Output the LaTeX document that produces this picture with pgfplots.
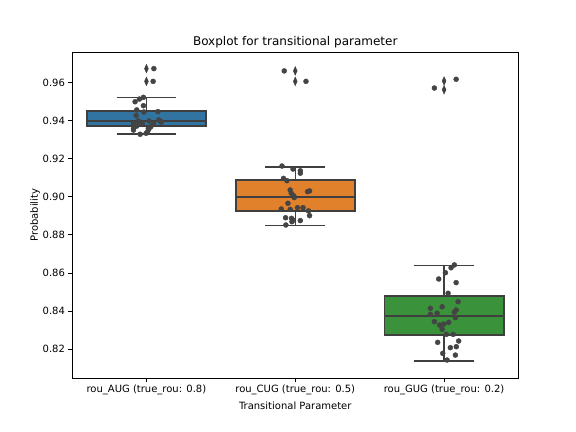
\documentclass[border=0pt]{standalone}
\usepackage{fontspec}
\setmainfont{DejaVu Sans}
\usepackage{pgfplots}
\pgfplotsset{compat=1.18}
\usepgfplotslibrary{statistics}
\definecolor{cA}{HTML}{3274A1}
\definecolor{cB}{HTML}{E1812C}
\definecolor{cC}{HTML}{3A923A}
\definecolor{lg}{HTML}{3F3F3F}
\definecolor{pt}{HTML}{444444}
\begin{document}
\fontsize{10bp}{12bp}\selectfont
\begin{tikzpicture}
\begin{axis}[
  at={(0,0)}, anchor=south west, scale only axis,
  width=446.5bp, height=325.5bp,
  xmin=-0.5, xmax=2.5, ymin=0.80475, ymax=0.97588,
  boxplot/draw direction=y,
  boxplot/every box/.style={/tikz/draw=lg, /tikz/line width=1.8bp},
  boxplot/every median/.style={/tikz/draw=lg, /tikz/line width=1.8bp},
  boxplot/every whisker/.style={/tikz/draw=lg, /tikz/line width=1.5bp},
  xtick={0,1,2},
  xticklabels={rou\_AUG (true\_rou: 0.8), rou\_CUG (true\_rou: 0.5), rou\_GUG (true\_rou: 0.2)},
  ytick={0.82,0.84,0.86,0.88,0.90,0.92,0.94,0.96},
  yticklabel style={/pgf/number format/.cd, fixed, fixed zerofill, precision=2},
  /pgf/number format/assume math mode=true,
  tick align=outside, xtick pos=bottom, ytick pos=left,
  major tick length=3.5bp,
  tick style={black, line width=0.8bp},
  axis line style={line width=0.8bp},
  title={Boxplot for transitional parameter},
  title style={font=\fontsize{12bp}{14bp}\selectfont, yshift=-5bp},
  xlabel={Transitional Parameter}, ylabel={Probability},
  xlabel style={font=\fontsize{10bp}{12bp}\selectfont},
  ylabel style={font=\fontsize{10bp}{12bp}\selectfont, yshift=-4bp},
  ticklabel style={font=\fontsize{10bp}{12bp}\selectfont},
]
% boxes
\addplot[draw=lg, fill=cA, line width=1.5bp, boxplot prepared={
  lower whisker=0.9329, lower quartile=0.9374, median=0.9400,
  upper quartile=0.9451, upper whisker=0.9523,
  draw position=0, box extend=0.8, whisker extend=0.4}] coordinates {};
\addplot[draw=lg, fill=cB, line width=1.5bp, boxplot prepared={
  lower whisker=0.8848, lower quartile=0.8927, median=0.8999,
  upper quartile=0.9090, upper whisker=0.9157,
  draw position=1, box extend=0.8, whisker extend=0.4}] coordinates {};
\addplot[draw=lg, fill=cC, line width=1.5bp, boxplot prepared={
  lower whisker=0.8137, lower quartile=0.8274, median=0.8375,
  upper quartile=0.8480, upper whisker=0.8638,
  draw position=2, box extend=0.8, whisker extend=0.4}] coordinates {};
% outliers (diamonds)
\addplot[only marks, mark=diamond*, mark size=4.3bp, mark options={xscale=0.6, fill=lg, draw=lg}] coordinates {
  (0,0.9674) (0,0.9607) (1,0.9662) (1,0.9607) (2,0.9609) (2,0.9563)};
% strip points
\addplot[only marks, mark=*, mark size=2.5bp, mark options={fill=pt, draw=pt}] coordinates {
  (-0.020,0.9523) (-0.047,0.9514) (-0.076,0.9500) (-0.020,0.9479) (-0.065,0.9457)
  (0.077,0.9448) (-0.017,0.9446) (-0.069,0.9427) (-0.054,0.9399) (-0.087,0.9387)
  (-0.027,0.9387) (0.018,0.9399) (0.047,0.9387) (0.083,0.9404) (0.097,0.9395)
  (-0.087,0.9360) (-0.087,0.9351) (0.013,0.9360) (0.007,0.9342) (-0.042,0.9329)
  (-0.002,0.9334) (0.030,0.9369) (-0.065,0.9372) (0.101,0.9393) (-0.051,0.9393)
  (0.016,0.9355) (0.050,0.9674) (0.045,0.9607)
};
\addplot[only marks, mark=*, mark size=2.5bp, mark options={fill=pt, draw=pt}] coordinates {
  (0.911,0.9162) (0.985,0.9146) (1.034,0.9137) (1.034,0.9124) (0.921,0.9097)
  (0.944,0.9085) (0.966,0.9036) (0.973,0.9019) (0.989,0.9006) (0.993,0.8996)
  (1.083,0.9027) (1.096,0.9031) (0.951,0.8966) (0.906,0.8936) (0.966,0.8934)
  (1.015,0.8943) (1.052,0.8943) (1.089,0.8926) (1.096,0.8901) (0.935,0.8890)
  (0.985,0.8878) (0.978,0.8869) (1.034,0.8875) (0.937,0.8852) (0.975,0.8887)
  (0.926,0.9662) (1.072,0.9607)
};
\addplot[only marks, mark=*, mark size=2.5bp, mark options={fill=pt, draw=pt}] coordinates {
  (2.069,0.8642) (2.047,0.8627) (2.009,0.8601) (1.964,0.8568) (2.081,0.8549)
  (2.027,0.8493) (2.094,0.8449) (1.908,0.8414) (1.987,0.8422) (2.081,0.8405)
  (2.069,0.8393) (1.908,0.8382) (1.953,0.8388) (2.076,0.8365) (1.935,0.8344)
  (2.031,0.8340) (1.970,0.8326) (1.997,0.8331) (1.987,0.8304) (2.015,0.8277)
  (2.061,0.8277) (1.957,0.8235) (2.098,0.8242) (2.082,0.8212) (2.042,0.8207)
  (1.991,0.8177) (2.076,0.8168) (2.020,0.8142) (1.935,0.9572) (2.081,0.9618)
};
\end{axis}
\pgfresetboundingbox
\path[use as bounding box] (-72bp,-54bp) rectangle (504bp,378bp);
\end{tikzpicture}
\end{document}
